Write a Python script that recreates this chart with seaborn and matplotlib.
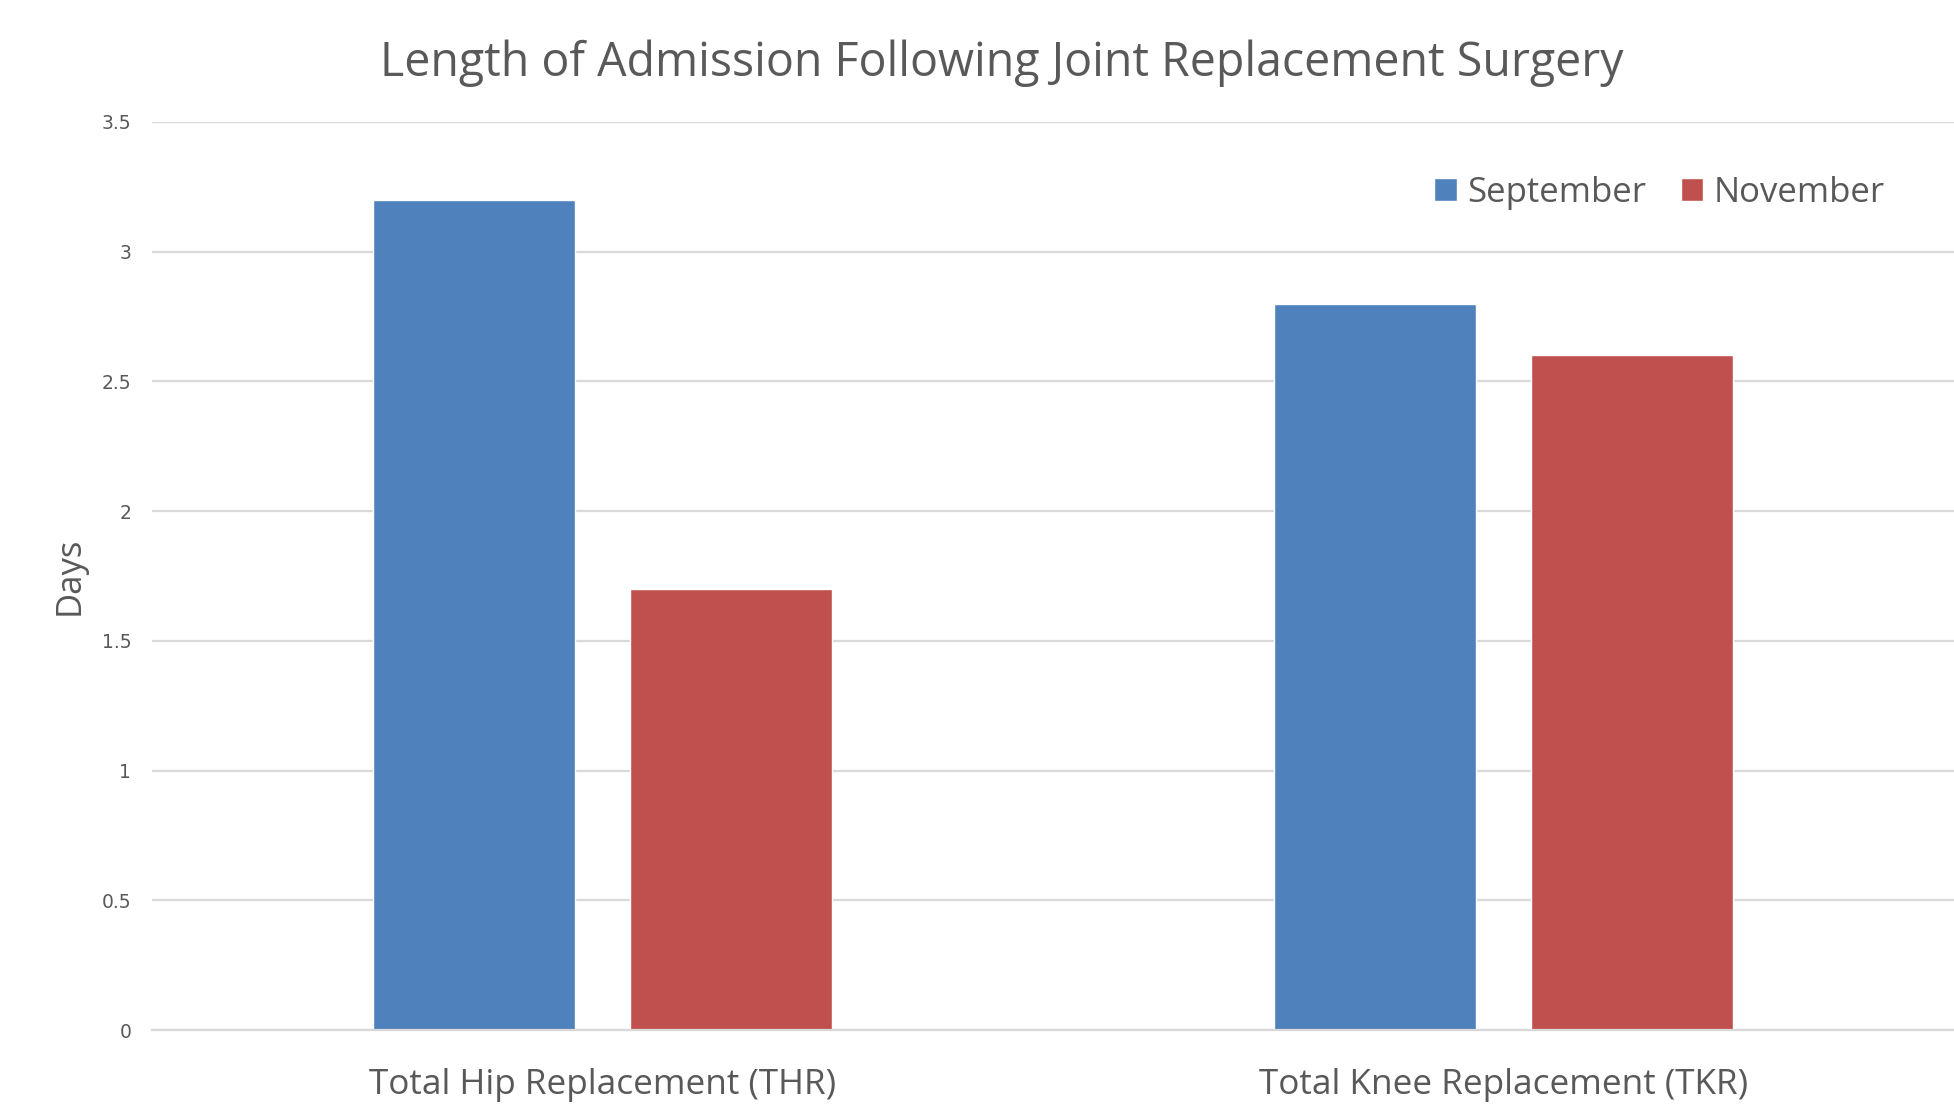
import matplotlib
matplotlib.use("Agg")
import matplotlib.pyplot as plt
import seaborn as sns
import pandas as pd

categories = ["Total Hip Replacement (THR)", "Total Knee Replacement (TKR)"]
months = ["September", "November"]
september = [3.2, 2.8]
november = [1.7, 2.6]
y_ticks = [0, 0.5, 1, 1.5, 2, 2.5, 3, 3.5]
y_tick_labels = ["0", "0.5", "1", "1.5", "2", "2.5", "3", "3.5"]

df = pd.DataFrame({
    "Procedure": categories * 2,
    "Month": [months[0]] * 2 + [months[1]] * 2,
    "Days": september + november,
})

sns.set_theme(style="white")
plt.rcParams["font.family"] = ["Open Sans", "DejaVu Sans"]

text_color = "#595959"
grid_color = "#D9D9D9"
palette = {"September": "#4F81BD", "November": "#C0504D"}

fig = plt.figure(figsize=(19.54, 11.06), dpi=100)
ax = fig.add_axes([0.0778, 0.0687, 0.9222, 0.8210])

sns.barplot(data=df, x="Procedure", y="Days", hue="Month", order=categories,
            hue_order=months, palette=palette, width=0.572, gap=0.217,
            saturation=1, ax=ax, legend=True)

ax.set_xlim(-0.5, 1.5)
ax.set_ylim(0, 3.5)
ax.set_yticks(y_ticks)
ax.set_yticklabels(y_tick_labels, family="DejaVu Sans", fontsize=13.5, color=text_color)
ax.yaxis.grid(True, color=grid_color, linewidth=1.6)
ax.set_axisbelow(True)
for s in ["top", "right", "left"]:
    ax.spines[s].set_visible(False)
ax.spines["bottom"].set_color(grid_color)
ax.spines["bottom"].set_linewidth(1.6)
ax.tick_params(axis="both", length=0)
ax.tick_params(axis="y", pad=15)
ax.tick_params(axis="x", pad=27)
for lbl in ax.get_xticklabels():
    lbl.set_fontsize(25.3)
    lbl.set_color(text_color)

ax.set_xlabel("")
ax.set_ylabel("Days", fontsize=25, color=text_color, labelpad=11)

fig.text(0.5125, 0.943, "Length of Admission Following Joint Replacement Surgery",
         ha="center", va="center", fontsize=33.5, color=text_color)

leg = ax.legend(loc="upper right", bbox_to_anchor=(0.979, 0.975), ncol=2,
                frameon=False, fontsize=25, handlelength=0.65, handleheight=0.65,
                handletextpad=0.3, columnspacing=1.0, labelcolor=text_color)

fig.savefig("out.png", dpi=100, facecolor="white")
